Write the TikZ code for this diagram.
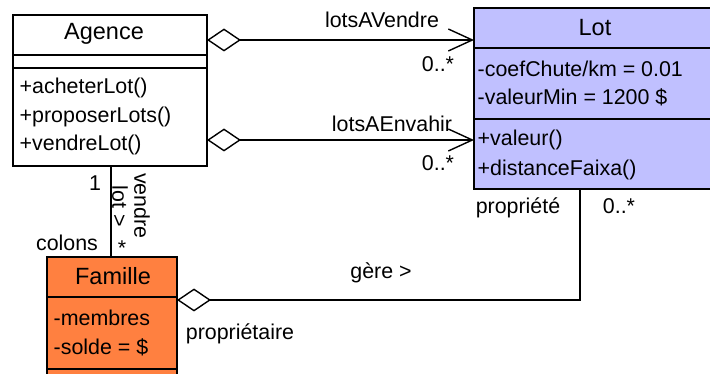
\documentclass[tikz,border=0pt]{standalone}
\usepackage{fontspec}
\setmainfont{Liberation Sans}
\usetikzlibrary{arrows.meta}
\definecolor{lotfill}{RGB}{192,192,255}
\definecolor{famfill}{RGB}{255,128,64}
\begin{document}
\begin{tikzpicture}[x=1pt,y=-1pt, line width=1.4pt,
  classbox/.style={draw, line width=1.4pt, anchor=north west, inner sep=0pt, outer sep=0pt},
  txt/.style={font=\fontsize{21.4}{24}\selectfont, inner sep=0pt},
  nametxt/.style={font=\fontsize{23.5}{26}\selectfont, inner sep=0pt},
  mtxt/.style={txt, anchor=west},
  sep/.style={line width=1.4pt},
  agg/.style={{Diamond[open,length=34pt,width=23pt]}-{Straight Barb[length=24pt,width=22pt]}},
  aggo/.style={{Diamond[open,length=34pt,width=23pt]}-},
]
\fill[white] (0,0) rectangle (710,374);
\useasboundingbox (0,0) rectangle (710,374);
\begin{scope}
\clip (0,0) rectangle (710,374);
% Agence
\node[classbox, fill=white, minimum width=194pt, minimum height=151pt] (agence) at (13,15) {};
\draw[sep] (13,55) -- (207,55);
\draw[sep] (13,68) -- (207,68);
\node[nametxt] (agname) at (104,34) {Agence};
\node[mtxt] (ag1) at (19,88) {+acheterLot()};
\node[mtxt] (ag2) at (19,116.5) {+proposerLots()};
\node[mtxt] (ag3) at (19,145) {+vendreLot()};
% Lot
\node[classbox, fill=lotfill, minimum width=246pt, minimum height=181pt] (lot) at (474,8) {};
\draw[sep] (474,48) -- (720,48);
\draw[sep] (474,119) -- (720,119);
\node[nametxt] (lotname) at (595,28) {Lot};
\node[mtxt] (lot1) at (477,69) {-coefChute/km = 0.01};
\node[mtxt] (lot2) at (477,97.5) {-valeurMin = 1200 \$};
\node[mtxt] (lot3) at (477,140) {+valeur()};
\node[mtxt] (lot4) at (477,170) {+distanceFaixa()};
% Famille
\node[classbox, fill=famfill, minimum width=130pt, minimum height=140pt] (famille) at (47,257) {};
\draw[sep] (47,297) -- (177,297);
\draw[sep] (47,369) -- (177,369);
\node[nametxt] (famname) at (113,276) {Famille};
\node[mtxt] (fam1) at (53,317.5) {-membres};
\node[mtxt] (fam2) at (53,347) {-solde = \$};
\end{scope}
% connectors
\coordinate (a1) at (agence.east |- 0,40);
\coordinate (l1) at (lot.west |- 0,40);
\coordinate (a2) at (agence.east |- 0,140);
\coordinate (l2) at (lot.west |- 0,140);
\draw[agg] (a1) -- (l1);
\draw[agg] (a2) -- (l2);
\coordinate (v1) at (agence.south -| 111,0);
\coordinate (v2) at (famille.north -| 111,0);
\draw (v1) -- (v2);
\coordinate (g1) at (famille.east |- 0,300);
\coordinate (g2) at (lot.south -| 580,0);
\draw[aggo] (g1) -| (g2);
% labels
\node[txt] (lbl1) at (382,20) {lotsAVendre};
\node[txt] (m1) at (438,64) {0..*};
\node[txt] (lbl2) at (392,124) {lotsAEnvahir};
\node[txt] (m2) at (438,163) {0..*};
\node[txt] (one) at (95,183) {1};
\node[txt] (colons) at (67,243) {colons};
\node[txt] (star) at (122,248) {*};
\node[txt, rotate=-90] (lotlbl) at (120,206) {lot >};
\node[txt, rotate=-90] (vendre) at (142,206) {vendre};
\node[txt] (gere) at (381,273) {gère >};
\node[txt] (proprio) at (240,334) {propriétaire};
\node[txt] (propriete) at (518,208) {propriété};
\node[txt] (m3) at (619,206) {0..*};
\end{tikzpicture}
\end{document}
